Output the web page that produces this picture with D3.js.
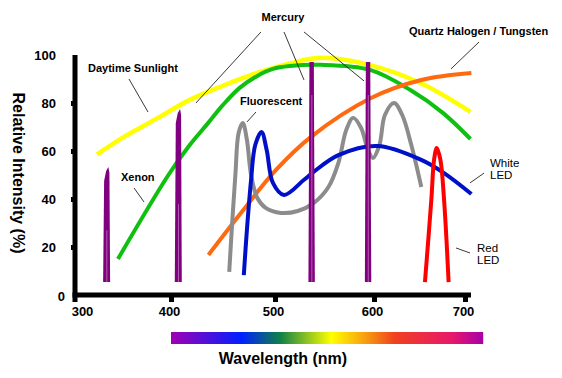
<!DOCTYPE html>
<html>
<head>
<meta charset="utf-8">
<script src="https://cdn.jsdelivr.net/npm/d3@7"></script>
<style>
  html, body { margin: 0; padding: 0; background: #fff; }
  svg { display: block; font-family: "Liberation Sans", Arial, sans-serif; }
</style>
</head>
<body>
<svg id="chart" width="562" height="378"></svg>
<script>
// ---------------- DATA ----------------
const xTicks = [300, 400, 500, 600, 700];
const yTicks = [0, 20, 40, 60, 80, 100];

const sunlightWl = [315, 345, 384, 418, 450, 482, 515, 545, 596, 651, 706];
const sunlightI  = [58.6, 65.7, 73.6, 81.3, 87.2, 92.4, 96.5, 98.8, 95.8, 88.3, 76.3];

const xenonWl = [339, 397, 418, 435, 450, 466, 483, 498, 515, 546, 596, 640, 676, 706];
const xenonI  = [15, 50, 62.5, 71.3, 79.2, 86.3, 91.3, 94.2, 95.4, 95.9, 93.8, 85.4, 75.8, 65];

const halogenWl = [436, 468, 501, 536, 597, 652, 707];
const halogenI  = [16.7, 34.6, 52.1, 65.8, 82.1, 89.6, 92.5];

const fluorWl = [456, 459, 462, 465, 469, 473, 477, 483, 491, 506, 523, 539, 554, 564, 572, 579, 587, 594, 599, 606, 612, 622, 631, 641, 652];
const fluorI  = [9.6, 31.3, 50.8, 67.5, 71.7, 64.6, 50, 40.4, 36.3, 34.2, 35, 38.3, 45, 55, 68.8, 73.8, 69.6, 60.4, 57.1, 62.5, 75, 80, 75, 62.5, 45];

const whiteLedWl = [470, 473, 477, 481, 487, 492, 498, 509, 529, 539, 564, 604, 652, 677, 707];
const whiteLedI  = [8.3, 27.1, 47.9, 62.5, 67.9, 60.4, 46.7, 41.7, 47.9, 51.3, 58.3, 62.1, 56.3, 50.8, 42.1];

const redLedWl = [656, 663, 666, 669, 673, 677, 682];
const redLedI  = [5.4, 39.6, 56.3, 61.3, 56.3, 39.6, 5.4];

// line spikes (xenon 2 + mercury 2)
const spikeWl    = [326, 407, 537, 594];
const spikePeak  = [53.3, 77.5, 97.1, 97.1];
const spikeKind  = ["xenon", "xenon", "mercury", "mercury"];
const spikeBase  = 5.4;

// spectrum bar range (nm)
const spectrumRange = [400, 720];
const spectrumOffsets = [0, 0.226, 0.349, 0.514, 0.62, 0.717, 0.899, 1];
const spectrumColors  = ["#a000b4", "#0020ff", "#108048", "#ffff00", "#f8a010", "#f04020", "#e8186a", "#a800a8"];

// annotation labels
const labelTexts = ["Mercury", "Quartz Halogen / Tungsten", "Daytime Sunlight", "Xenon", "Fluorescent"];
const labelWl    = [508, 638.5, 304.6, 342.5, 466.3];
const labelI     = [114, 108.3, 92.9, 47.5, 79.2];
const labelAnchor = ["middle", "start", "start", "start", "start"];

const ledLabelLines = [["White", "LED"], ["Red", "LED"]];
const ledLabelWl = [727.5, 713.2];
const ledLabelI  = [53.3, 17.9];

// leader lines [wl1, i1, wl2, i2]
const leaders = [
  [486.5, 109.6, 424, 80],
  [509.1, 109.6, 529.3, 89.6],
  [529.3, 109.6, 589.9, 89.2],
  [715.4, 105.4, 684.6, 94.2],
  [351.7, 90, 373.6, 76.25],
  [357.5, 44.6, 369, 38.75],
  [481.7, 76.25, 473.1, 72.1],
  [720.9, 50.8, 705.5, 46.7],
  [705.5, 17.5, 690.1, 19.6]
];

// ---------------- LAYOUT ----------------
const svg = d3.select("#chart");
const axisX0 = 75, axisY0 = 295;

const x = d3.scaleLinear().domain(xTicks).range([84, 171, 275, 374, 465]);
const y = d3.scaleLinear().domain([0, 100]).range([295, 55]);

// gradient
const defs = svg.append("defs");
const grad = defs.append("linearGradient").attr("id", "spec")
  .attr("x1", "0%").attr("x2", "100%").attr("y1", "0%").attr("y2", "0%");
spectrumOffsets.forEach((o, i) => grad.append("stop").attr("offset", o).attr("stop-color", spectrumColors[i]));

// ---------------- CURVES ----------------
const line = d3.line().x(d => x(d[0])).y(d => y(d[1])).curve(d3.curveCatmullRom.alpha(0.5));
const zip = (a, b) => a.map((v, i) => [v, b[i]]);

function drawCurve(wl, val, color, w) {
  svg.append("path").datum(zip(wl, val))
    .attr("d", line).attr("fill", "none")
    .attr("stroke", color).attr("stroke-width", w)
    .attr("stroke-linecap", "butt").attr("stroke-linejoin", "round");
}

drawCurve(sunlightWl, sunlightI, "#ffff00", 4.5);
drawCurve(xenonWl, xenonI, "#10c010", 4);
drawCurve(halogenWl, halogenI, "#ff6a10", 4);
drawCurve(fluorWl, fluorI, "#8c8c8c", 4);
drawCurve(whiteLedWl, whiteLedI, "#0010c8", 4);
drawCurve(redLedWl, redLedI, "#ff0000", 4);

// spikes
spikeWl.forEach((wl, i) => {
  const cx = x(wl), top = y(spikePeak[i]), base = y(spikeBase);
  let pts;
  if (spikeKind[i] === "xenon") {
    pts = [[cx - 3.5, base], [cx - 2.5, top + 14], [cx - 0.5, top + 4], [cx + 1.8, top], [cx + 2.8, top + 6], [cx + 3.5, base]];
  } else {
    pts = [[cx - 3.2, base], [cx - 2.2, top], [cx + 2.2, top], [cx + 3.2, base]];
  }
  svg.append("path").attr("d", "M" + pts.map(p => p.join(",")).join("L") + "Z")
    .attr("fill", "#800080");
  svg.append("line")
    .attr("x1", cx + 0.2).attr("x2", cx + 0.2)
    .attr("y1", base).attr("y2", base - (base - top) * (spikeKind[i] === "xenon" ? 0.45 : 0.85))
    .attr("stroke", "#d7a8d7").attr("stroke-width", 0.8).attr("opacity", 0.7);
});

// ---------------- AXES ----------------
const gx = svg.append("g").attr("transform", `translate(0,${axisY0})`)
  .call(d3.axisBottom(x).tickValues(xTicks).tickSizeInner(7).tickSizeOuter(0).tickPadding(5).tickFormat(d3.format("d")));
gx.select(".domain").remove();
gx.selectAll(".tick line").attr("stroke", "#000").attr("stroke-width", 5)
  .attr("opacity", d => d === 300 ? 0 : 1);
gx.selectAll(".tick text").attr("font-size", 13).attr("font-weight", "bold").attr("fill", "#000")
  .attr("font-family", "Liberation Sans, Arial, sans-serif").attr("dx", "-2");

const gy = svg.append("g").attr("transform", `translate(${axisX0},0)`)
  .call(d3.axisLeft(y).tickValues(yTicks).tickSizeInner(4).tickSizeOuter(0).tickPadding(15));
gy.select(".domain").remove();
gy.selectAll(".tick line").attr("stroke", "#000").attr("stroke-width", 5)
  .attr("opacity", d => (d === 0 || d === 100) ? 0 : 1);
gy.selectAll(".tick text").attr("font-size", 13).attr("font-weight", "bold").attr("fill", "#000")
  .attr("font-family", "Liberation Sans, Arial, sans-serif")
  .attr("dx", d => d === 0 ? 9 : 0).attr("dy", d => d === 0 ? "0.45em" : "0.32em");

svg.append("line").attr("x1", axisX0).attr("x2", axisX0).attr("y1", y(100)).attr("y2", axisY0 + 7)
  .attr("stroke", "#000").attr("stroke-width", 5);
svg.append("line").attr("x1", axisX0 - 2.5).attr("x2", 471).attr("y1", axisY0).attr("y2", axisY0)
  .attr("stroke", "#000").attr("stroke-width", 5);

svg.append("text").attr("transform", "translate(18.5,173) rotate(90)")
  .attr("text-anchor", "middle").attr("dy", "0.35em")
  .attr("font-size", 16).attr("font-weight", "bold").attr("fill", "#000")
  .text("Relative Intensity (%)");

svg.append("rect").attr("x", x(spectrumRange[0])).attr("width", x(spectrumRange[1]) - x(spectrumRange[0]))
  .attr("y", 332).attr("height", 12).attr("fill", "url(#spec)");

svg.append("text").attr("x", 283).attr("y", 364).attr("text-anchor", "middle")
  .attr("font-size", 16).attr("font-weight", "bold").attr("fill", "#000")
  .text("Wavelength (nm)");

// ---------------- ANNOTATIONS ----------------
leaders.forEach(l => {
  svg.append("line").attr("x1", x(l[0])).attr("y1", y(l[1])).attr("x2", x(l[2])).attr("y2", y(l[3]))
    .attr("stroke", "#222").attr("stroke-width", 0.9);
});

labelTexts.forEach((t, i) => {
  svg.append("text").attr("x", x(labelWl[i])).attr("y", y(labelI[i]))
    .attr("text-anchor", labelAnchor[i])
    .attr("font-size", 11).attr("font-weight", "bold").attr("fill", "#000").text(t);
});

ledLabelLines.forEach((lines, i) => {
  const t = svg.append("text").attr("x", x(ledLabelWl[i])).attr("y", y(ledLabelI[i]))
    .attr("font-size", 11.5).attr("fill", "#000");
  lines.forEach((s, j) => t.append("tspan").attr("x", x(ledLabelWl[i])).attr("dy", j === 0 ? 0 : 12).text(s));
});
</script>
</body>
</html>
